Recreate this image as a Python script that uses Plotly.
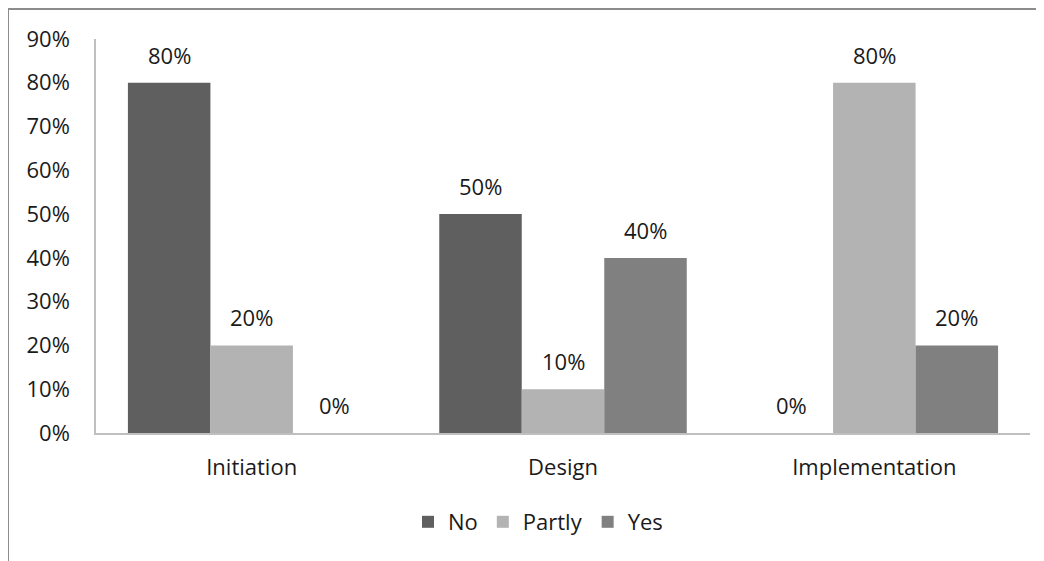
import plotly.graph_objects as go

categories = ["Initiation", "Design", "Implementation"]
series_names = ["No", "Partly", "Yes"]
no_values = [0.80, 0.50, 0.00]
partly_values = [0.20, 0.10, 0.80]
yes_values = [0.00, 0.40, 0.20]
y_ticks = [0, 0.1, 0.2, 0.3, 0.4, 0.5, 0.6, 0.7, 0.8, 0.9]
y_tick_labels = ["0%", "10%", "20%", "30%", "40%", "50%", "60%", "70%", "80%", "90%"]

colors = ["#5f5f5f", "#b3b3b3", "#808080"]
series_values = [no_values, partly_values, yes_values]

OFF = 8  # page body offset
W, H = 1044, 561
ML, MT, MB = 96 - OFF, 39 - OFF, 128 + OFF
plot_w = 934
MR = W - ML - plot_w
plot_h = H - MT - MB
FONT = "Open Sans"

fig = go.Figure()
for name, vals, col in zip(series_names, series_values, colors):
    fig.add_trace(go.Bar(
        x=categories, y=vals, name=name,
        marker=dict(color=col, line=dict(width=0)),
    ))

bargap = 0.205
cat_w = plot_w / len(categories)
bar_w = cat_w * (1 - bargap) / len(series_names)
annotations = []
for i, vals in enumerate(series_values):
    for c, v in zip(categories, vals):
        annotations.append(dict(
            x=c, y=v, xref="x", yref="y",
            text=f"{round(v*100)}%", showarrow=False,
            xshift=(i - 1) * bar_w, yshift=28, yanchor="middle",
            font=dict(family=FONT, size=22, color="#1a1a1a"),
        ))

# convert screen pixel coords (as seen in final page) to paper coords
px = lambda p: (p - OFF - ML) / plot_w
py = lambda p: (MT + plot_h - (p - OFF)) / plot_h
shapes = [
    dict(type="line", xref="paper", yref="paper", x0=px(8), x1=px(1100),
         y0=py(9), y1=py(9), line=dict(color="#8c8c8c", width=2)),
    dict(type="line", xref="paper", yref="paper", x0=px(8), x1=px(8),
         y0=py(9), y1=py(700), line=dict(color="#8c8c8c", width=2)),
]

fig.update_layout(
    width=W, height=H,
    margin=dict(l=ML, r=MR, t=MT, b=MB),
    paper_bgcolor="white", plot_bgcolor="white",
    barmode="group", bargap=bargap, bargroupgap=0,
    font=dict(family=FONT, size=22, color="#1a1a1a"),
    showlegend=True,
    legend=dict(orientation="h", x=px(538), xanchor="center", y=py(522), yanchor="middle",
                font=dict(family=FONT, size=22, color="#1a1a1a"),
                itemwidth=30, traceorder="normal"),
    annotations=annotations,
    shapes=shapes,
)
fig.update_xaxes(
    showline=True, linecolor="#bfbfbf", linewidth=1.5,
    showgrid=False, ticks="outside", ticklen=14, tickcolor="rgba(0,0,0,0)",
    tickfont=dict(family=FONT, size=22, color="#1a1a1a"),
)
fig.update_yaxes(
    range=[0, 0.9], tickvals=y_ticks, ticktext=y_tick_labels,
    showline=True, linecolor="#bfbfbf", linewidth=1.5,
    showgrid=False, zeroline=False, ticks="outside", ticklen=20, tickcolor="rgba(0,0,0,0)",
    tickfont=dict(family=FONT, size=22, color="#1a1a1a"),
)

fig.write_html("out.html")
